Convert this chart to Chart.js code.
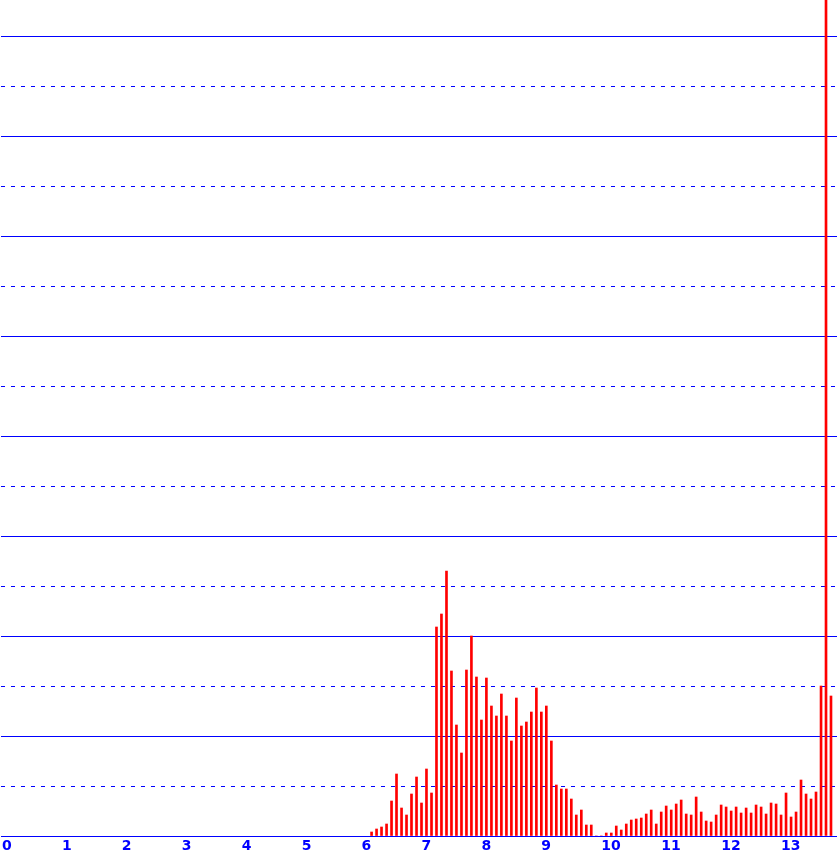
<!DOCTYPE html>
<html>
<head>
<meta charset="utf-8">
<script src="https://cdn.jsdelivr.net/npm/chart.js@4/dist/chart.umd.min.js"></script>
<style>
  html, body { margin: 0; padding: 0; background: #fff; }
  #wrap { position: relative; width: 837px; height: 856px; }
</style>
</head>
<body>
<div id="wrap"><canvas id="histCanvas"></canvas></div>
<script>
// bin start of each bar (twelfths of a unit)
const binStarts = [
  6.167, 6.25, 6.333, 6.417, 6.5, 6.583, 6.667, 6.75, 6.833, 6.917,
  7, 7.083, 7.167, 7.25, 7.333, 7.417, 7.5, 7.583, 7.667, 7.75, 7.833, 7.917,
  8, 8.083, 8.167, 8.25, 8.333, 8.417, 8.5, 8.583, 8.667, 8.75, 8.833, 8.917,
  9, 9.083, 9.167, 9.25, 9.333, 9.417, 9.5, 9.583, 9.667, 9.75, 9.833, 9.917,
  10, 10.083, 10.167, 10.25, 10.333, 10.417, 10.5, 10.583, 10.667, 10.75, 10.833, 10.917,
  11, 11.083, 11.167, 11.25, 11.333, 11.417, 11.5, 11.583, 11.667, 11.75, 11.833, 11.917,
  12, 12.083, 12.167, 12.25, 12.333, 12.417, 12.5, 12.583, 12.667, 12.75, 12.833, 12.917,
  13, 13.083, 13.167, 13.25, 13.333, 13.417, 13.5, 13.583, 13.667, 13.75, 13.833
];

const binValues = [
  0.04, 0.07, 0.09, 0.12, 0.35, 0.62, 0.28, 0.21, 0.42, 0.59,
  0.33, 0.67, 0.43, 2.09, 2.22, 2.65, 1.65, 1.11, 0.83, 1.66, 2.00, 1.59,
  1.16, 1.58, 1.30, 1.20, 1.42, 1.20, 0.95, 1.38, 1.10, 1.14, 1.24, 1.48,
  1.24, 1.30, 0.95, 0.51, 0.47, 0.47, 0.37, 0.21, 0.26, 0.11, 0.11, 0,
  0, 0.03, 0.03, 0.10, 0.06, 0.12, 0.16, 0.17, 0.18, 0.22, 0.26, 0.12,
  0.24, 0.30, 0.26, 0.32, 0.36, 0.22, 0.21, 0.39, 0.24, 0.15, 0.14, 0.21,
  0.31, 0.29, 0.25, 0.29, 0.23, 0.28, 0.23, 0.31, 0.29, 0.22, 0.33, 0.32,
  0.21, 0.43, 0.19, 0.24, 0.56, 0.42, 0.37, 0.44, 1.50, 10.5, 1.40
];

const xTickLabels = ["0", "1", "2", "3", "4", "5", "6", "7", "8", "9", "10", "11", "12", "13"];

const BLUE = "#0000ff";
const RED = "#ff0000";

const points = binStarts.map((x, i) => ({x, y: binValues[i]}));

const ctx = document.getElementById("histCanvas").getContext("2d");
const chart = new Chart(ctx, {
  type: "bar",
  data: {
    datasets: [{
      data: points,
      backgroundColor: RED,
      borderWidth: 0,
      barThickness: 2,
      grouped: false
    }]
  },
  options: {
    responsive: true,
    maintainAspectRatio: false,
    animation: false,
    layout: {padding: 0},
    plugins: {legend: {display: false}, title: {display: false}, tooltip: {enabled: false}},
    scales: {
      x: {
        type: "linear",
        offset: false,
        min: -1 / 60,
        max: 836 / 60,
        grid: {display: false, drawTicks: false},
        border: {display: false},
        ticks: {
          stepSize: 1,
          includeBounds: false,
          autoSkip: false,
          maxRotation: 0,
          align: "start",
          padding: 2,
          color: BLUE,
          font: {family: "DejaVu Sans", size: 14, weight: "bold"},
          callback: v => xTickLabels[v] ?? ""
        },
        afterFit: s => { s.height = 20 }
      },
      y: {
        min: 0,
        max: 8.3601, // tiny extra so grid lines land on whole pixels
        ticks: {display: false, stepSize: 0.5, includeBounds: false},
        grid: {color: BLUE, lineWidth: 1, drawTicks: false},
        border: {
          display: false,
          dash: c => (c.index % 2 === 1 ? [4, 6] : [])
        },
        afterFit: s => { s.width = 0 }
      }
    }
  }
});
</script>
</body>
</html>
